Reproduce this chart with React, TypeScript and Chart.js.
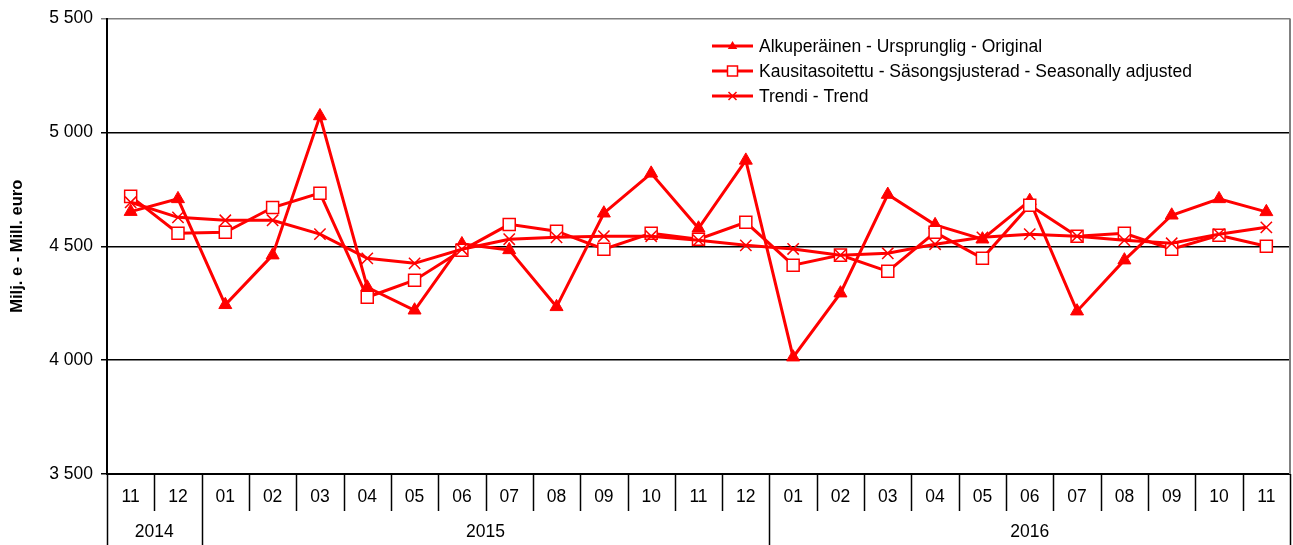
import React, { useEffect, useRef } from 'react';
import { Chart, registerables } from 'chart.js';

Chart.register(...registerables);

const RED = '#ff0000';
const FONT = '"Liberation Sans", Arial, sans-serif';

const monthLabels = ['11', '12', '01', '02', '03', '04', '05', '06', '07', '08', '09', '10', '11', '12', '01', '02', '03', '04', '05', '06', '07', '08', '09', '10', '11'];
const yearLabels = ['2014', '2015', '2016'];
const yearSpans = [2, 12, 11];

const seriesNames = [
  'Alkuperäinen - Ursprunglig - Original',
  'Kausitasoitettu - Säsongsjusterad - Seasonally adjusted',
  'Trendi - Trend',
];

const original = [4652, 4708, 4243, 4461, 5072, 4320, 4219, 4510, 4484, 4234, 4645, 4820, 4579, 4877, 4013, 4294, 4727, 4594, 4531, 4700, 4215, 4439, 4636, 4708, 4651];
const seasonal = [4719, 4557, 4561, 4670, 4733, 4276, 4351, 4482, 4596, 4566, 4487, 4557, 4531, 4605, 4417, 4461, 4390, 4561, 4447, 4680, 4544, 4557, 4487, 4548, 4500];
const trend = [4693, 4627, 4614, 4614, 4553, 4447, 4425, 4487, 4531, 4539, 4544, 4544, 4526, 4504, 4488, 4461, 4469, 4509, 4539, 4553, 4544, 4526, 4513, 4553, 4583];

const yMin = 3500;
const yMax = 5500;
const yStep = 500;
const yTitle = 'Milj. e - Mill. euro';

function fmt(v: number): string {
  const s = String(Math.round(v));
  return s.replace(/\B(?=(\d{3})+(?!\d))/g, ' ');
}

export default function App() {
  const ref = useRef<HTMLCanvasElement>(null);

  useEffect(() => {
    document.body.style.margin = '0';
    const canvas = ref.current;
    if (!canvas) return;

    const drawMarker = (ctx: CanvasRenderingContext2D, kind: number, cx: number, cy: number) => {
      ctx.save();
      ctx.strokeStyle = RED;
      ctx.fillStyle = RED;
      ctx.lineWidth = 1.5;
      if (kind === 0) {
        const r = 5;
        ctx.beginPath();
        ctx.moveTo(cx, cy - r);
        ctx.lineTo(cx + r * 0.95, cy + r * 0.6);
        ctx.lineTo(cx - r * 0.95, cy + r * 0.6);
        ctx.closePath();
        ctx.fill();
      } else if (kind === 1) {
        ctx.fillStyle = '#fff';
        ctx.fillRect(cx - 5, cy - 5, 10, 10);
        ctx.strokeRect(cx - 5, cy - 5, 10, 10);
      } else {
        const r = 4;
        ctx.beginPath();
        ctx.moveTo(cx - r, cy - r);
        ctx.lineTo(cx + r, cy + r);
        ctx.moveTo(cx + r, cy - r);
        ctx.lineTo(cx - r, cy + r);
        ctx.stroke();
      }
      ctx.restore();
    };

    const custom = {
      id: 'custom',
      afterDraw(chart: any) {
        const { ctx, chartArea: a } = chart;
        const x = chart.scales.x;
        const H = chart.height;
        ctx.save();
        // right border (gray)
        ctx.strokeStyle = '#808080';
        ctx.lineWidth = 2;
        ctx.beginPath();
        ctx.moveTo(a.right, a.top);
        ctx.lineTo(a.right, a.bottom);
        ctx.stroke();

        const n = monthLabels.length;
        const half = (x.getPixelForValue(1) - x.getPixelForValue(0)) / 2;
        const boundary = (i: number) => x.getPixelForValue(i) - half;

        const starts: number[] = [];
        let acc = 0;
        for (let k = 0; k < yearSpans.length; k++) {
          starts.push(acc);
          acc += yearSpans[k];
        }

        ctx.strokeStyle = '#000';
        ctx.lineWidth = 1.5;
        for (let i = 0; i <= n; i++) {
          const bx = Math.round(boundary(i)) + 0.5;
          const full = starts.includes(i) || i === n;
          ctx.beginPath();
          ctx.moveTo(bx, a.bottom);
          ctx.lineTo(bx, full ? H : a.bottom + 37);
          ctx.stroke();
        }

        ctx.fillStyle = '#000';
        ctx.font = `17.5px ${FONT}`;
        ctx.textAlign = 'center';
        ctx.textBaseline = 'middle';
        for (let i = 0; i < n; i++) {
          ctx.fillText(monthLabels[i], x.getPixelForValue(i), a.bottom + 23);
        }
        for (let k = 0; k < yearLabels.length; k++) {
          const l = boundary(starts[k]);
          const r = boundary(starts[k] + yearSpans[k]);
          ctx.fillText(yearLabels[k], (l + r) / 2, a.bottom + 58);
        }

        // y title
        ctx.save();
        ctx.translate(17, (a.top + a.bottom) / 2);
        ctx.rotate(-Math.PI / 2);
        ctx.font = `bold 16.5px ${FONT}`;
        ctx.fillText(yTitle, 0, 0);
        ctx.restore();

        // legend
        const lx0 = 712;
        const lx1 = 753;
        const rows = [46, 71, 96];
        ctx.font = `17.5px ${FONT}`;
        ctx.textAlign = 'left';
        for (let k = 0; k < seriesNames.length; k++) {
          const ly = rows[k];
          ctx.strokeStyle = RED;
          ctx.lineWidth = 3;
          ctx.beginPath();
          ctx.moveTo(lx0, ly);
          ctx.lineTo(lx1, ly);
          ctx.stroke();
          drawMarker(ctx, k, (lx0 + lx1) / 2, ly);
          ctx.fillStyle = '#000';
          ctx.fillText(seriesNames[k], 759, ly + 1);
        }
        ctx.restore();
      },
    };

    const chart = new Chart(canvas, {
      type: 'line',
      data: {
        labels: monthLabels,
        datasets: [
          {
            label: seriesNames[0],
            data: original,
            borderColor: RED,
            backgroundColor: RED,
            borderWidth: 3,
            pointStyle: 'triangle',
            pointRadius: 7.5,
            pointBorderWidth: 1,
            pointBackgroundColor: RED,
            pointBorderColor: RED,
            order: 2,
          },
          {
            label: seriesNames[1],
            data: seasonal,
            borderColor: RED,
            backgroundColor: '#fff',
            borderWidth: 3,
            pointStyle: 'rect',
            pointRadius: 8.5,
            pointBorderWidth: 1.5,
            pointBackgroundColor: '#fff',
            pointBorderColor: RED,
            order: 1,
          },
          {
            label: seriesNames[2],
            data: trend,
            borderColor: RED,
            backgroundColor: RED,
            borderWidth: 3,
            pointStyle: 'crossRot',
            pointRadius: 8,
            pointBorderWidth: 1.5,
            pointBorderColor: RED,
            order: 0,
          },
        ],
      },
      options: {
        responsive: false,
        animation: false,
        layout: { autoPadding: false, padding: { left: 0, right: 3, top: 18, bottom: 71 } },
        plugins: {
          legend: { display: false },
          tooltip: { enabled: false },
        },
        scales: {
          x: {
            type: 'category',
            offset: true,
            grid: { display: false, drawTicks: false },
            ticks: { display: false },
            border: { display: true, color: '#000', width: 2 },
            afterFit: (s: any) => {
              s.height = 0;
              s.paddingLeft = 0;
              s.paddingRight = 0;
            },
          },
          y: {
            min: yMin,
            max: yMax,
            ticks: {
              stepSize: yStep,
              color: '#000',
              font: { family: FONT, size: 17.5 },
              padding: 8,
              callback: (v: any) => fmt(Number(v)),
            },
            grid: {
              color: (c: any) => (c.tick && c.tick.value === yMax ? '#808080' : '#000'),
              lineWidth: 1.5,
              tickLength: 6,
              drawTicks: true,
            },
            border: { display: true, color: '#000', width: 2 },
            afterFit: (s: any) => {
              s.width = 107;
            },
          },
        },
      },
      plugins: [custom],
    });

    return () => chart.destroy();
  }, []);

  return (
    <div style={{ width: 1293, height: 545 }}>
      <canvas ref={ref} width={1293} height={545} />
    </div>
  );
}
